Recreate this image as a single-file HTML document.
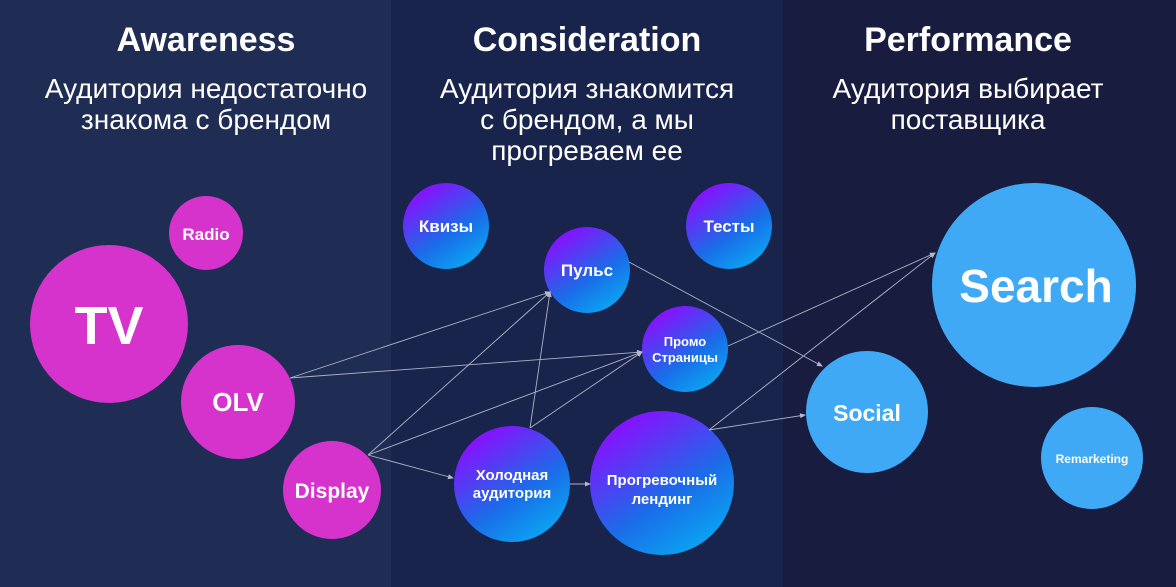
<!DOCTYPE html>
<html><head><meta charset="utf-8"><style>
html,body{margin:0;padding:0;width:1176px;height:587px;overflow:hidden;background:#18244c}
svg{display:block}
text{font-family:"Liberation Sans","DejaVu Sans",sans-serif;fill:#fff;text-anchor:middle}
</style></head><body>
<svg width="1176" height="587" viewBox="0 0 1176 587" xmlns="http://www.w3.org/2000/svg">
<defs>
<linearGradient id="g" x1="0.2" y1="0.05" x2="0.8" y2="0.95">
<stop offset="0" stop-color="#8e0bff"/><stop offset="0.6" stop-color="#1a6ce8"/><stop offset="1" stop-color="#0aa6f2"/>
</linearGradient>
<marker id="a" markerWidth="6" markerHeight="6" refX="5" refY="3" orient="auto" markerUnits="userSpaceOnUse">
<path d="M0,0.5 L6,3 L0,5.5z" fill="#d0d4e0"/></marker>
</defs>
<rect x="0" y="0" width="391" height="587" fill="#1f2d55"/>
<rect x="391" y="0" width="392" height="587" fill="#18244c"/>
<rect x="783" y="0" width="393" height="587" fill="#181d40"/>

<g font-weight="bold" font-size="34">
<text x="206" y="51">Awareness</text>
<text x="587" y="51">Consideration</text>
<text x="968" y="51">Performance</text>
</g>
<g font-size="28">
<text x="206" y="98">Аудитория недостаточно</text>
<text x="206" y="129">знакома с брендом</text>
<text x="587" y="98">Аудитория знакомится</text>
<text x="587" y="129">с брендом, а мы</text>
<text x="587" y="160">прогреваем ее</text>
<text x="968" y="98">Аудитория выбирает</text>
<text x="968" y="129">поставщика</text>
</g>

<g fill="#d633cc">
<circle cx="206" cy="233" r="37"/>
<circle cx="109" cy="324" r="79"/>
<circle cx="238" cy="402" r="57"/>
<circle cx="332" cy="490" r="49"/>
</g>
<g fill="url(#g)">
<circle cx="446" cy="226" r="43"/>
<circle cx="729" cy="226" r="43"/>
<circle cx="587" cy="270" r="43"/>
<circle cx="685" cy="349" r="43"/>
<circle cx="512" cy="484" r="58"/>
<circle cx="662" cy="483" r="72"/>
</g>
<g fill="#3fa9f5">
<circle cx="1034" cy="285" r="102"/>
<circle cx="867" cy="412" r="61"/>
<circle cx="1092" cy="458" r="51"/>
</g>

<g stroke="#c8ccd8" stroke-width="0.9" fill="none" marker-end="url(#a)" opacity="0.85">
<line x1="290" y1="378" x2="550" y2="292"/>
<line x1="290" y1="378" x2="642" y2="352"/>
<line x1="368" y1="455" x2="550" y2="292"/>
<line x1="368" y1="455" x2="642" y2="352"/>
<line x1="368" y1="455" x2="453" y2="478"/>
<line x1="530" y1="428" x2="550" y2="292"/>
<line x1="530" y1="428" x2="642" y2="352"/>
<line x1="570" y1="484" x2="590" y2="484"/>
<line x1="629" y1="262" x2="822" y2="366"/>
<line x1="728" y1="346" x2="935" y2="253"/>
<line x1="709" y1="430" x2="935" y2="253"/>
<line x1="709" y1="430" x2="805" y2="415"/>
</g>

<text x="206" y="240" font-size="17" font-weight="bold">Radio</text>
<text x="109" y="344" font-size="54" font-weight="bold">TV</text>
<text x="238" y="411" font-size="26" font-weight="bold">OLV</text>
<text x="332" y="498" font-size="21" font-weight="bold">Display</text>
<text x="446" y="232" font-size="17" font-weight="bold">Квизы</text>
<text x="729" y="232" font-size="17" font-weight="bold">Тесты</text>
<text x="587" y="276" font-size="17" font-weight="bold">Пульс</text>
<text x="685" y="346" font-size="13" font-weight="bold">Промо</text>
<text x="685" y="362" font-size="13" font-weight="bold">Страницы</text>
<text x="512" y="480" font-size="15" font-weight="bold">Холодная</text>
<text x="512" y="498" font-size="15" font-weight="bold">аудитория</text>
<text x="662" y="485" font-size="15" font-weight="bold">Прогревочный</text>
<text x="662" y="504" font-size="15" font-weight="bold">лендинг</text>
<text x="1036" y="302" font-size="46" font-weight="bold">Search</text>
<text x="867" y="421" font-size="23" font-weight="bold">Social</text>
<text x="1092" y="463" font-size="12" font-weight="bold">Remarketing</text>
</svg>
</body></html>
